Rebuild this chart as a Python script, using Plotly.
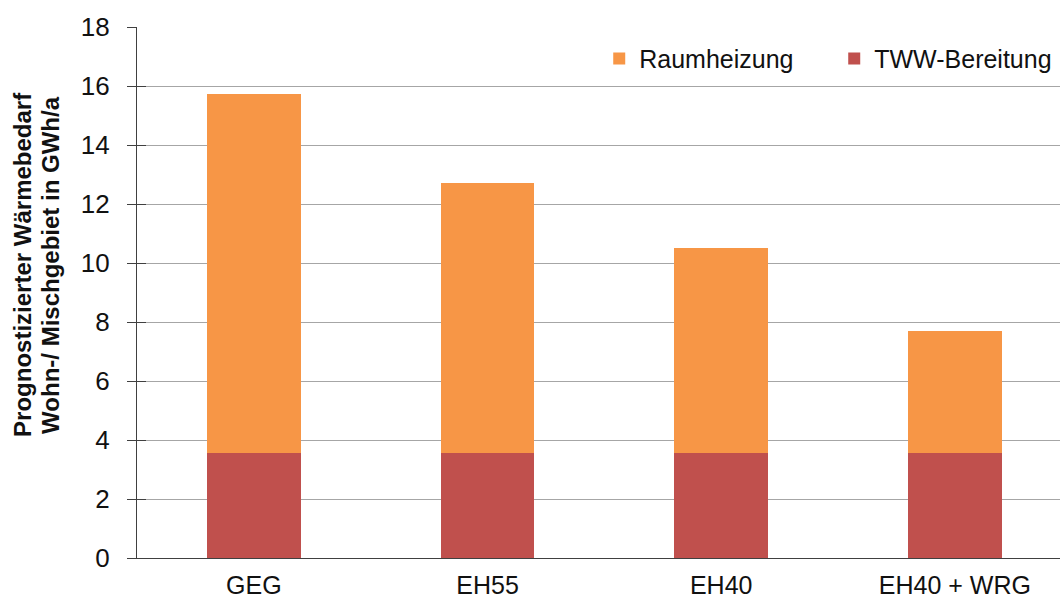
import plotly.graph_objects as go

categories = ["GEG", "EH55", "EH40", "EH40 + WRG"]
tww = [3.55, 3.55, 3.55, 3.55]
raumheizung = [12.17, 9.16, 6.95, 4.14]
y_ticks = [0, 2, 4, 6, 8, 10, 12, 14, 16, 18]

ORANGE = "#F79646"
RED = "#C0504D"
TXT = "#111111"
FONT = "Liberation Sans, Arial, sans-serif"

fig = go.Figure()
fig.add_trace(go.Bar(x=categories, y=tww, name="TWW-Bereitung",
                     marker=dict(color=RED, line=dict(width=0)), width=0.4))
fig.add_trace(go.Bar(x=categories, y=raumheizung, name="Raumheizung",
                     marker=dict(color=ORANGE, line=dict(width=0)), width=0.4))
# invisible helper trace for inner tick marks
fig.add_trace(go.Scatter(x=[categories[0]], y=[0], yaxis="y2", mode="markers",
                         marker=dict(opacity=0), showlegend=False, hoverinfo="skip"))

fig.update_layout(
    width=1060, height=598,
    margin=dict(l=137, r=0, t=27, b=40, autoexpand=False),
    paper_bgcolor="white", plot_bgcolor="white",
    barmode="stack",
    font=dict(family=FONT, size=25, color=TXT),
    showlegend=True,
    legend=dict(orientation="h", traceorder="reversed",
                x=1.010, xanchor="right", y=0.94, yanchor="middle",
                font=dict(size=25, color=TXT), bgcolor="rgba(0,0,0,0)",
                entrywidth=190, entrywidthmode="pixels"),
    xaxis=dict(range=[-0.5, 3.45], showgrid=False, showline=True,
               linecolor="#404040", linewidth=1.3, ticks="",
               tickfont=dict(size=25, color=TXT), ticklabelstandoff=5,
               zeroline=False, automargin=False),
    yaxis=dict(range=[0, 18], tickvals=y_ticks, showgrid=True,
               gridcolor="#A6A6A6", gridwidth=1.3, showline=True,
               linecolor="#404040", linewidth=1.3, ticks="outside",
               ticklen=9, tickcolor="#404040", tickwidth=1.3,
               tickfont=dict(size=26, color=TXT), ticklabelstandoff=12,
               zeroline=False, automargin=False),
    yaxis2=dict(range=[0, 18], tickvals=y_ticks, overlaying="y", side="left",
                showgrid=False, showline=False, ticks="inside", ticklen=9,
                tickcolor="#404040", tickwidth=1.3, showticklabels=False,
                zeroline=False, automargin=False),
)

fig.add_annotation(text="<b>Prognostizierter Wärmebedarf</b>", textangle=-90,
                   xref="paper", yref="paper", x=0, y=0.552,
                   xanchor="center", yanchor="middle", xshift=-114,
                   showarrow=False, font=dict(size=24, color=TXT))
fig.add_annotation(text="<b>Wohn-/ Mischgebiet in GWh/a</b>", textangle=-90,
                   xref="paper", yref="paper", x=0, y=0.552,
                   xanchor="center", yanchor="middle", xshift=-86,
                   showarrow=False, font=dict(size=24, color=TXT))

fig.write_html("out.html")
